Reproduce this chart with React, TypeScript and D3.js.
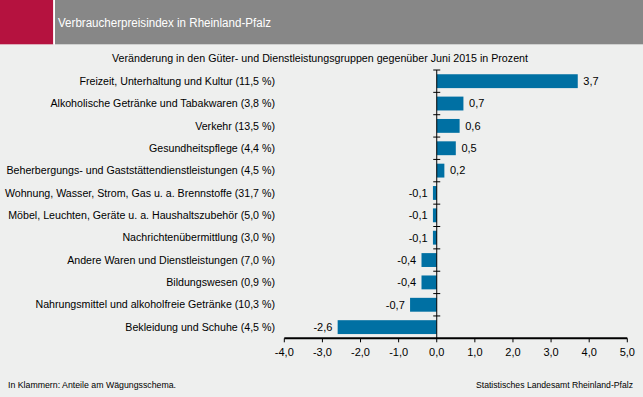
import React from "react";
import * as d3 from "d3";

const categories = [
  "Freizeit, Unterhaltung und Kultur",
  "Alkoholische Getränke und Tabakwaren",
  "Verkehr",
  "Gesundheitspflege",
  "Beherbergungs- und Gaststättendienstleistungen",
  "Wohnung, Wasser, Strom, Gas u. a. Brennstoffe",
  "Möbel, Leuchten, Geräte u. a. Haushaltszubehör",
  "Nachrichtenübermittlung",
  "Andere Waren und Dienstleistungen",
  "Bildungswesen",
  "Nahrungsmittel und alkoholfreie Getränke",
  "Bekleidung und Schuhe",
];
const shares = ["11,5", "3,8", "13,5", "4,4", "4,5", "31,7", "5,0", "3,0", "7,0", "0,9", "10,3", "4,5"];
const values = [3.7, 0.7, 0.6, 0.5, 0.2, -0.1, -0.1, -0.1, -0.4, -0.4, -0.7, -2.6];
const xTicks = [-4, -3, -2, -1, 0, 1, 2, 3, 4, 5];

const title = "Verbraucherpreisindex in Rheinland-Pfalz";
const subtitle = "Veränderung in den Güter- und Dienstleistungsgruppen gegenüber Juni 2015 in Prozent";
const footLeft = "In Klammern: Anteile am Wägungsschema.";
const footRight = "Statistisches Landesamt Rheinland-Pfalz";

const W = 643;
const H = 397;
const FONT = "'Liberation Sans', Arial, sans-serif";
const fmt = (v: number) => d3.format(".1f")(v).replace(".", ",").replace("−", "-");

export default function App() {
  const x = d3.scaleLinear().domain([-4, 5]).range([284.3, 627.3]);
  const y = d3
    .scaleBand<number>()
    .domain(d3.range(categories.length))
    .range([70, 338.3])
    .paddingInner(0.38)
    .paddingOuter(0.19);
  const step = y.step();
  const top = 70;
  const x0 = x(0);
  const axisY = 338.3;

  return (
    <svg
      width={W}
      height={H}
      style={{ position: "fixed", left: 0, top: 0, display: "block" }}
      fontFamily={FONT}
    >
      <rect x={0} y={0} width={W} height={H} fill="#EEEFEE" />
      <rect x={0} y={0} width={53.3} height={44.3} fill="#B5123F" />
      <rect x={53.3} y={0} width={1.7} height={44.3} fill="#FFFFFF" />
      <rect x={55} y={0} width={W - 55} height={44.3} fill="#878787" />
      <text x={58} y={27} fontSize={12} fill="#FFFFFF" textLength={213} lengthAdjust="spacingAndGlyphs">
        {title}
      </text>
      <text x={112} y={62} fontSize={11} fill="#000" textLength={416} lengthAdjust="spacingAndGlyphs">
        {subtitle}
      </text>

      {categories.map((c, i) => (
        <text
          key={"l" + i}
          x={275}
          y={(y(i) as number) + y.bandwidth() / 2}
          dy="0.35em"
          fontSize={10.65}
          textAnchor="end"
          fill="#000"
        >
          {`${c} (${shares[i]} %)`}
        </text>
      ))}

      {values.map((v, i) => (
        <rect
          key={"b" + i}
          x={Math.min(x(v), x0)}
          y={y(i) as number}
          width={Math.abs(x(v) - x0)}
          height={y.bandwidth()}
          fill="#0070A3"
        />
      ))}

      {values.map((v, i) => (
        <text
          key={"v" + i}
          x={v >= 0 ? x(v) + 5.6 : x(v) - 5.3}
          y={(y(i) as number) + y.bandwidth() / 2}
          dy="0.35em"
          fontSize={11}
          textAnchor={v >= 0 ? "start" : "end"}
          fill="#000"
        >
          {fmt(v)}
        </text>
      ))}

      {/* vertical category axis */}
      <line x1={x0} x2={x0} y1={top} y2={axisY} stroke="#000" strokeWidth={1} />
      {d3.range(categories.length).map((k) => (
        <line
          key={"ct" + k}
          x1={x0 - 3.5}
          x2={x0 + 3.5}
          y1={top + k * step}
          y2={top + k * step}
          stroke="#000"
          strokeWidth={1}
        />
      ))}

      {/* horizontal value axis */}
      <line x1={x(-4)} x2={x(5)} y1={axisY} y2={axisY} stroke="#000" strokeWidth={2} />
      {xTicks.map((t) => (
        <g key={"xt" + t}>
          <line x1={x(t)} x2={x(t)} y1={axisY} y2={axisY + 4} stroke="#000" strokeWidth={1} />
          <text x={x(t)} y={352} dy="0.35em" fontSize={11} textAnchor="middle" fill="#000">
            {fmt(t)}
          </text>
        </g>
      ))}

      <text x={8} y={388} fontSize={9} fill="#000" textLength={168} lengthAdjust="spacingAndGlyphs">
        {footLeft}
      </text>
      <text x={476} y={388} fontSize={9} fill="#000" textLength={157} lengthAdjust="spacingAndGlyphs">
        {footRight}
      </text>
    </svg>
  );
}
